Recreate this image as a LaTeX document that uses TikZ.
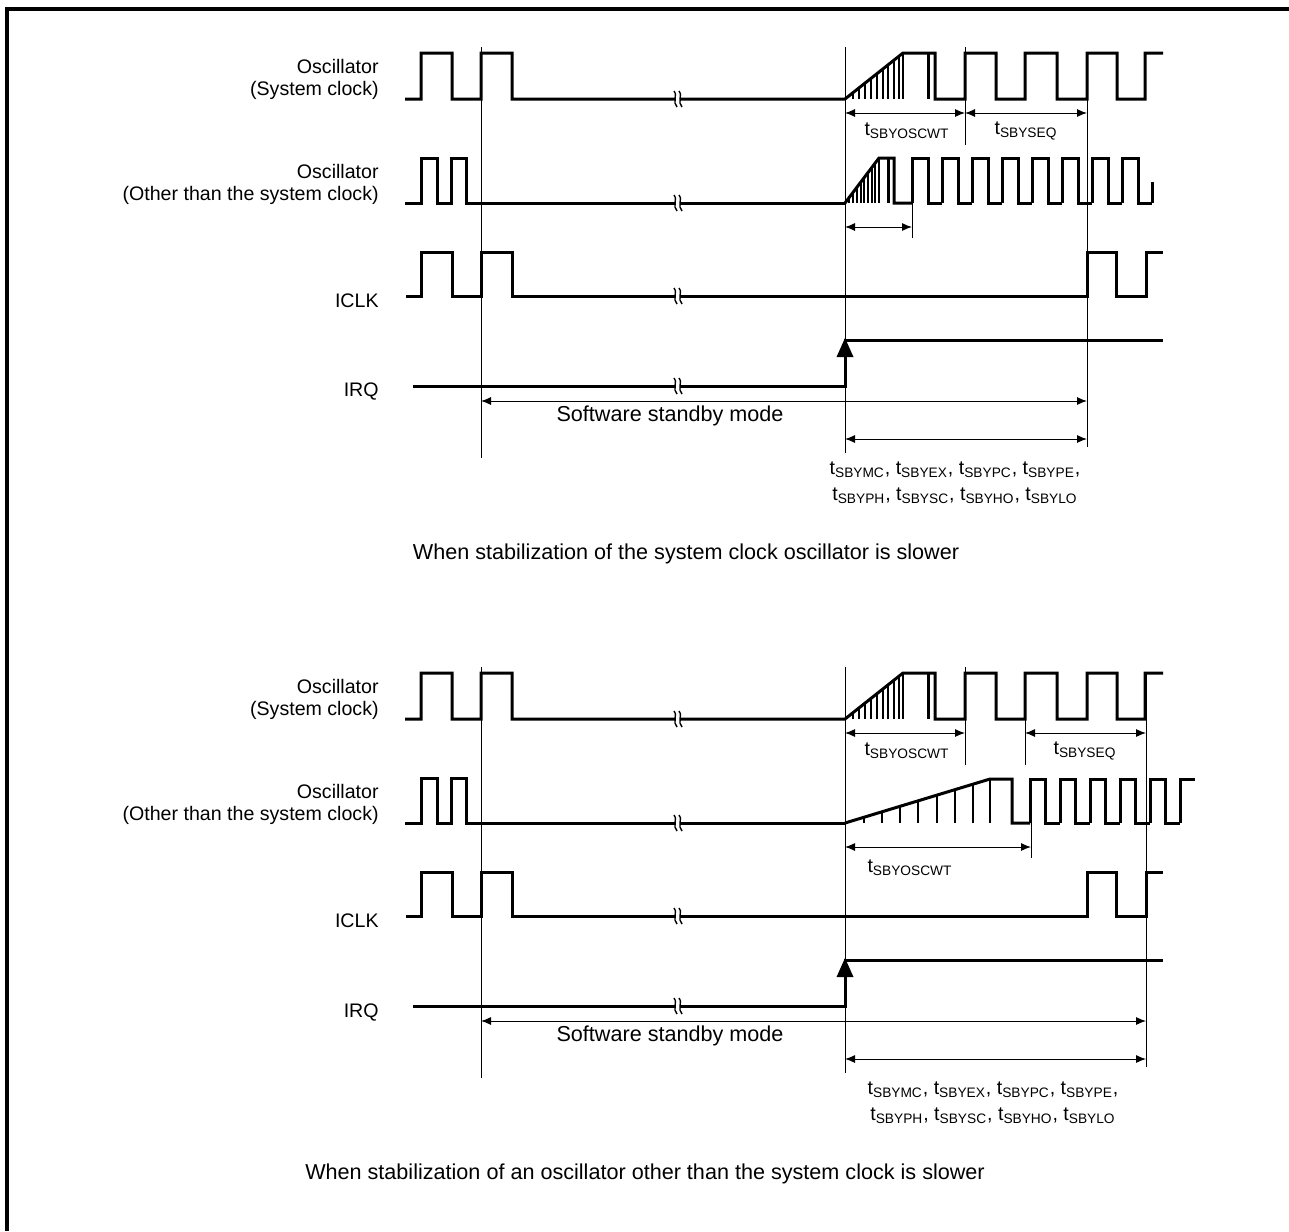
\documentclass[tikz,border=0pt]{standalone}
\usepackage{fontspec}
\setmainfont{Liberation Sans}
\usetikzlibrary{arrows.meta}

\tikzset{
  wave/.style={line width=1.5pt, line join=miter},
  hatch/.style={line width=0.9pt},
  guide/.style={line width=0.5pt},
  dim/.style={line width=0.5pt, {Latex[length=5pt,width=4pt]}-{Latex[length=5pt,width=4pt]}},
  rowlabel/.style={anchor=east, align=right, inner sep=0pt},
  txt/.style={inner sep=0pt},
  captxt/.style={inner sep=0pt, font=\fontsize{10.8}{13}\selectfont}
}

% wavy break mark on a waveform
\newcommand\brkmark[2]{%
  \fill[white] (#1-3,#2-7) rectangle (#1+2,#2+7);
  \draw[line width=0.7pt] (#1-4,#2-8) .. controls (#1,#2-6) and (#1-6,#2+4) .. (#1-1,#2+8);
  \draw[line width=0.7pt] (#1+1,#2-8) .. controls (#1+5,#2-6) and (#1-1,#2+4) .. (#1+4,#2+8);
}

\begin{document}
\begin{tikzpicture}[x=0.5pt, y=-0.5pt, font=\fontsize{9.8}{11}\selectfont]
  \useasboundingbox (0,0) rectangle (1289,1231);

  % Frame
  \draw[line width=2pt] (7,1231) -- (7,9) -- (1289,9);

  % Parts common to both cases
  \foreach \oy in {0,620} {
    \begin{scope}[yshift=-0.5*\oy pt]
      % System clock oscillator
      \draw[wave] (405,99) -- (421,99) -- (421,53) -- (452,53) -- (452,99) -- (481,99) -- (481,53)
        -- (512,53) -- (512,99) -- (845,99) -- (903,53) -- (935,53) -- (935,99) -- (965,99)
        -- (965,53) -- (996,53) -- (996,99) -- (1025,99) -- (1025,53) -- (1057,53) -- (1057,99)
        -- (1087,99) -- (1087,53) -- (1117,53) -- (1117,99) -- (1145,99) -- (1145,53) -- (1163,53);
      \draw[wave] (928,53) -- (928,99);
      \foreach \x in {853,859,865,871,877,883,888,894,899,903}
        \draw[hatch] (\x,99) -- (\x,{99-(\x-845)*46/58});
      \brkmark{678}{99}

      % Other oscillator, start
      \draw[wave] (405,203) -- (421,203) -- (421,158) -- (437,158) -- (437,203) -- (451,203)
        -- (451,158) -- (466,158) -- (466,203) -- (845,203);
      \brkmark{678}{203}

      % ICLK
      \draw[wave] (406,296) -- (421,296) -- (421,252) -- (452,252) -- (452,296) -- (481,296)
        -- (481,252) -- (512,252) -- (512,296) -- (1087,296) -- (1087,252) -- (1116,252)
        -- (1116,296) -- (1146,296) -- (1146,252) -- (1163,252);
      \brkmark{678}{296}

      % IRQ
      \draw[wave] (413,386) -- (845,386) -- (845,340) -- (1163,340);
      \fill (845,338) -- (836.5,357) -- (853.5,357) -- cycle;
      \brkmark{678}{386}

      % Guides
      \draw[guide] (481,47) -- (481,458);
      \draw[guide] (845,47) -- (845,453);
      \draw[guide] (965,47) -- (965,145);

      % Row labels
      \node[rowlabel] (osc\oy) at (379,79) {Oscillator\\(System clock)};
      \node[rowlabel] (oth\oy) at (379,184) {Oscillator\\(Other than the system clock)};
      \node[rowlabel] (iclk\oy) at (379,301) {ICLK};
      \node[rowlabel] (irq\oy) at (379,392) {IRQ};

      \draw[dim] (845,113) -- (965,113);
      \node[txt] (wt\oy) at (907,131) {t\textsubscript{SBYOSCWT}};
      \node[captxt] (ssm\oy) at (670,416) {Software standby mode};
    \end{scope}
  }

  % Case 1: system clock oscillator is slower
  \foreach \x in {849,853,857,861,864,868,872,875,879}
    \draw[hatch] (\x,203) -- (\x,{203-(\x-845)*45/34});
  \draw[wave] (845,203) -- (879,158) -- (894,158) -- (894,203) -- (912,203);
  \draw[wave] (888,158) -- (888,203);
  \foreach \x in {912,942,...,1122}
    \draw[wave] (\x,203) -- (\x,158) -- (\x+16,158) -- (\x+16,203) -- (\x+30,203);
  \draw[wave] (1152,203) -- (1152,182);
  \draw[guide] (912,203) -- (912,238);
  \draw[guide] (1087,53) -- (1087,447);
  \draw[dim] (965,113) -- (1087,113);
  \node[txt] (seq) at (1026,131) {t\textsubscript{SBYSEQ}};
  \draw[dim] (845,227) -- (912,227);
  \draw[dim] (481,401) -- (1087,401);
  \draw[dim] (845,439) -- (1087,439);
  \node[txt, align=center] (tlist) at (955,483)
    {t\textsubscript{SBYMC}, t\textsubscript{SBYEX}, t\textsubscript{SBYPC}, t\textsubscript{SBYPE},\\[2pt]
     t\textsubscript{SBYPH}, t\textsubscript{SBYSC}, t\textsubscript{SBYHO}, t\textsubscript{SBYLO}};
  \node[captxt] (cap) at (686,554) {When stabilization of the system clock oscillator is slower};

  % Case 2: other oscillator is slower
  \foreach \x in {864,882,900,918,937,955,973,990}
    \draw[hatch] (\x,823) -- (\x,{823-(\x-845)*44/145});
  \draw[wave] (845,823) -- (990,779) -- (1012,779) -- (1012,823) -- (1030,823);
  \foreach \x in {1030,1060,...,1150}
    \draw[wave] (\x,823) -- (\x,779) -- (\x+15,779) -- (\x+15,823) -- (\x+30,823);
  \draw[wave] (1180,823) -- (1180,779) -- (1195,779);
  \draw[guide] (1031,779) -- (1031,858);
  \draw[dim] (845,847) -- (1031,847);
  \node[txt] (wtb) at (910,868) {t\textsubscript{SBYOSCWT}};
  \draw[guide] (1025,673) -- (1025,765);
  \draw[guide] (1146,673) -- (1146,1067);
  \draw[dim] (1025,733) -- (1146,733);
  \node[txt] (seqb) at (1085,751) {t\textsubscript{SBYSEQ}};
  \draw[dim] (481,1021) -- (1146,1021);
  \draw[dim] (845,1059) -- (1146,1059);
  \node[txt, align=center] (tlistb) at (993,1103)
    {t\textsubscript{SBYMC}, t\textsubscript{SBYEX}, t\textsubscript{SBYPC}, t\textsubscript{SBYPE},\\[2pt]
     t\textsubscript{SBYPH}, t\textsubscript{SBYSC}, t\textsubscript{SBYHO}, t\textsubscript{SBYLO}};
  \node[captxt] (capb) at (645,1174) {When stabilization of an oscillator other than the system clock is slower};

\end{tikzpicture}
\end{document}
